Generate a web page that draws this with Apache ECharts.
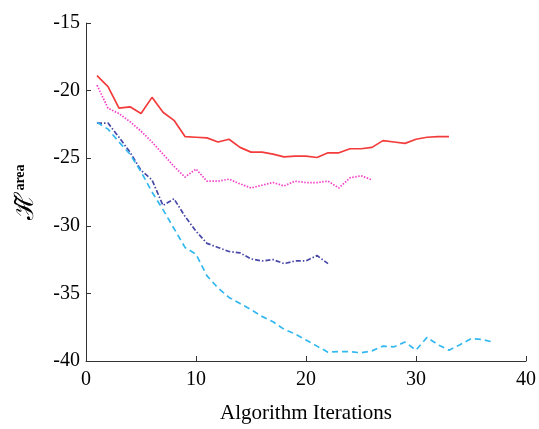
<!DOCTYPE html>
<html><head><meta charset="utf-8">
<script src="https://cdn.jsdelivr.net/npm/echarts@6/dist/echarts.min.js"></script>
<style>html,body{margin:0;padding:0;background:#fff}#c{width:539px;height:429px}</style>
</head><body><div id="c"></div>
<script>
var xTicks = [0, 10, 20, 30, 40];
var yTicks = [-40, -35, -30, -25, -20, -15];
var redVals = [-18.9,-19.7,-21.3,-21.2,-21.7,-20.5,-21.6,-22.2,-23.4,-23.45,-23.5,-23.8,-23.6,-24.2,-24.55,-24.55,-24.7,-24.9,-24.85,-24.85,-24.95,-24.6,-24.6,-24.3,-24.3,-24.2,-23.7,-23.8,-23.9,-23.6,-23.45,-23.4,-23.4];
var pinkVals = [-19.6,-21.3,-21.7,-22.3,-23.0,-23.8,-24.7,-25.6,-26.4,-25.8,-26.7,-26.7,-26.55,-26.9,-27.2,-27.0,-26.8,-27.05,-26.7,-26.8,-26.8,-26.7,-27.2,-26.45,-26.3,-26.6];
var darkVals = [-22.4,-22.4,-23.45,-24.55,-25.9,-26.6,-28.5,-28.0,-29.3,-30.4,-31.3,-31.6,-31.9,-32.0,-32.45,-32.6,-32.5,-32.8,-32.6,-32.6,-32.2,-32.8];
var lightVals = [-22.35,-22.85,-23.8,-24.7,-26.0,-27.5,-28.8,-30.2,-31.6,-32.1,-33.7,-34.6,-35.3,-35.75,-36.2,-36.7,-37.1,-37.65,-38.0,-38.45,-38.9,-39.35,-39.3,-39.3,-39.4,-39.25,-38.9,-38.95,-38.6,-39.2,-38.25,-38.8,-39.2,-38.8,-38.35,-38.4,-38.6];

function pts(v){ return v.map(function(y,i){ return [i+1, y]; }); }
var serif = '"Liberation Serif", "DejaVu Serif", serif';
var chart = echarts.init(document.getElementById('c'));
chart.setOption({
  animation: false,
  grid: {left: 86, right: 12, top: 23, bottom: 63},
  xAxis: {
    type: 'value', min: xTicks[0], max: xTicks[xTicks.length-1], interval: 10,
    axisLine: {lineStyle: {color: '#333', width: 1}},
    axisTick: {inside: true, length: 5, lineStyle: {color: '#333'}},
    splitLine: {show: false},
    axisLabel: {color: '#000', fontFamily: serif, fontSize: 20, margin: 9},
    name: 'Algorithm Iterations', nameLocation: 'middle', nameGap: 42,
    nameTextStyle: {color: '#000', fontFamily: serif, fontSize: 21}
  },
  yAxis: {
    type: 'value', min: yTicks[0], max: yTicks[yTicks.length-1], interval: 5,
    axisLine: {show: true, lineStyle: {color: '#333', width: 1}},
    axisTick: {show: true, inside: true, length: 5, lineStyle: {color: '#333'}},
    splitLine: {show: false},
    axisLabel: {color: '#000', fontFamily: serif, fontSize: 20, margin: 6},
    name: '{h|ℋ̃}{s|area}', nameLocation: 'middle', nameGap: 47, nameRotate: 90,
    nameTextStyle: {
      color: '#000',
      rich: {
        h: {fontFamily: '"DejaVu Serif", serif', fontSize: 26, color: '#000'},
        s: {fontFamily: serif, fontSize: 14, fontWeight: 'bold', color: '#000', padding: [0,0,12,1]}
      }
    }
  },
  series: [
    {type: 'line', data: pts(redVals), showSymbol: false, lineStyle: {color: '#f33b3b', width: 1.7, type: 'solid'}},
    {type: 'line', data: pts(pinkVals), showSymbol: false, lineStyle: {color: '#f43fc8', width: 1.7, type: [1.5, 1.5]}},
    {type: 'line', data: pts(darkVals), showSymbol: false, lineStyle: {color: '#4848a8', width: 1.7, type: [5, 2, 1.5, 2]}},
    {type: 'line', data: pts(lightVals), showSymbol: false, lineStyle: {color: '#33b8f0', width: 1.7, type: [6, 4]}}
  ]
});
</script></body></html>
